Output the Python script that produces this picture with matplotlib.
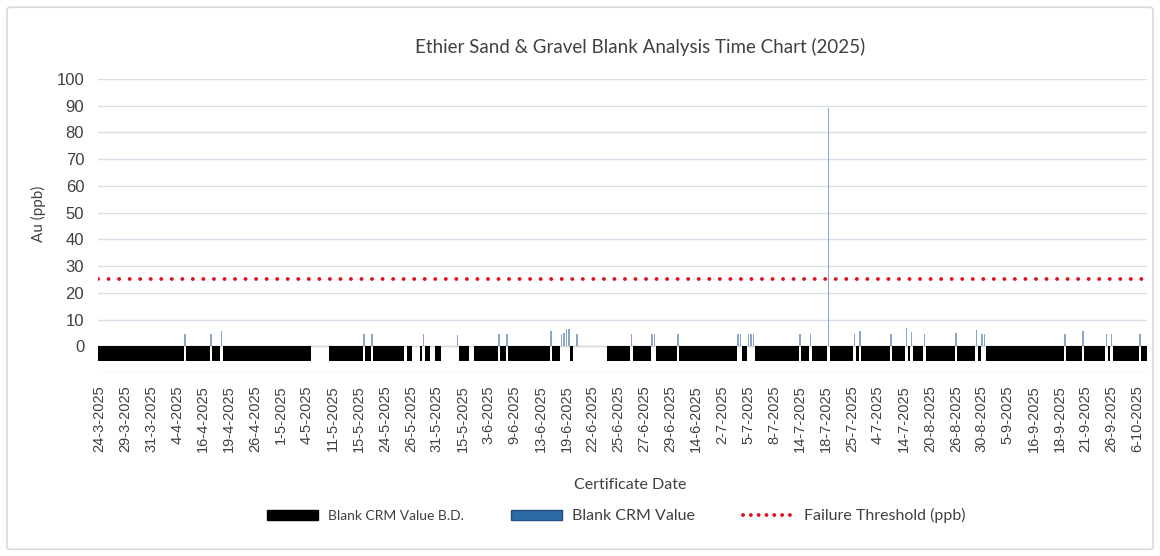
import matplotlib.pyplot as plt
from matplotlib.patches import Patch, FancyBboxPatch
from matplotlib.lines import Line2D
import numpy as np

# Tick labels shown on the category axis (one every 10 certificates)
tick_labels = ['24-3-2025', '29-3-2025', '31-3-2025', '4-4-2025', '16-4-2025', '19-4-2025',
               '26-4-2025', '1-5-2025', '4-5-2025', '11-5-2025', '15-5-2025', '24-5-2025',
               '26-5-2025', '31-5-2025', '15-5-2025', '3-6-2025', '9-6-2025', '13-6-2025',
               '19-6-2025', '22-6-2025', '25-6-2025', '27-6-2025', '29-6-2025', '14-6-2025',
               '2-7-2025', '5-7-2025', '8-7-2025', '14-7-2025', '18-7-2025', '25-7-2025',
               '4-7-2025', '14-7-2025', '20-8-2025', '26-8-2025', '30-8-2025', '5-9-2025',
               '16-9-2025', '18-9-2025', '21-9-2025', '26-9-2025', '6-10-2025']
label_every = 10
n_certificates = 404

# value plotted for results below detection
bd_value = -5.5

# certificates with no blank result (inclusive index ranges)
no_result = [(82, 88), (118, 118), (121, 123), (128, 129), (132, 137), (143, 144),
             (183, 183), (185, 195)]

# certificates with a detected blank value (index, Au ppb)
detect_idx = [33, 43, 47, 102, 105, 125, 138, 154, 157, 174, 178, 179, 180, 181, 184,
              205, 213, 214, 223, 246, 247, 250, 251, 252, 270, 274, 281, 291, 293,
              305, 311, 313, 318, 330, 338, 340, 341, 372, 379, 388, 390, 401]
detect_val = [4.6, 4.7, 5.7, 4.7, 4.7, 4.5, 4.3, 4.8, 4.8, 5.9, 4.8, 5.0, 6.3, 6.6, 4.5,
              4.7, 4.8, 4.8, 4.7, 4.7, 4.7, 4.8, 4.8, 4.8, 4.7, 4.7, 89.0, 4.7, 5.8,
              4.7, 7.0, 5.3, 4.7, 5.0, 6.0, 4.8, 4.8, 4.7, 5.8, 4.7, 4.7, 4.7]

threshold = 25

# build the two series
x = np.arange(n_certificates)
bd = np.full(n_certificates, bd_value)
for a, b in no_result:
    bd[a:b + 1] = np.nan
bd[detect_idx] = np.nan
det = np.full(n_certificates, np.nan)
det[detect_idx] = detect_val

fig = plt.figure(figsize=(11.6, 5.56), dpi=100)
fig.patches.append(FancyBboxPatch((0.006, 0.012), 0.988, 0.975, boxstyle='round,pad=0,rounding_size=0.004',
                                  transform=fig.transFigure, fc='none', ec='#d9d9d9', lw=1.2))
ax = fig.add_axes([0.0845, 0.329, 0.904, 0.529])

ax.set_xlim(-0.5, n_certificates - 0.5)
ax.set_ylim(-10, 100)
ax.set_yticks(range(-10, 101, 10))
ax.set_yticklabels([''] + [str(v) for v in range(0, 101, 10)])
ax.grid(axis='y', color='#d5dfea', lw=1)
ax.set_axisbelow(True)
ax.axhline(0, color='#d9d9d9', lw=1, zorder=1)

ax.bar(x, bd, width=1.0, color='black', zorder=2)
ax.bar(x, det, width=0.55, color='#8aa6c8', zorder=3)
ax.axhline(threshold, color='#e0101c', lw=2.8, linestyle=(0, (0.01, 2.7)),
           dash_capstyle='round', zorder=4)

ax.set_xticks(x[::label_every])
ax.set_xticklabels(tick_labels, rotation=90, fontsize=10.5, family='Liberation Sans', color='#404040')
ax.tick_params(axis='y', labelsize=12, labelcolor='#404040', length=0, pad=10)
ax.tick_params(axis='x', length=0, pad=9)
for s in ax.spines.values():
    s.set_visible(False)
for lab in ax.get_yticklabels():
    lab.set_family('Liberation Sans')

fig.text(0.552, 0.915, 'Ethier Sand & Gravel Blank Analysis Time Chart (2025)',
         ha='center', va='center', fontsize=13.5, family='Lato', color='#404040')
fig.text(0.543, 0.128, 'Certificate Date', ha='center', va='center',
         fontsize=11.5, family='Lato', color='#404040')
fig.text(0.033, 0.615, 'Au (ppb)', ha='center', va='center', rotation=90,
         fontsize=11, family='Lato', color='#404040')

handles = [Patch(fc='black', ec='black'),
           Patch(fc='#2e6aa8', ec='#1f4e80'),
           Line2D([], [], color='#e0101c', lw=2.8, linestyle=(0, (0.01, 2.0)), dash_capstyle='round')]
leg = fig.legend(handles, ['Blank CRM Value B.D.', 'Blank CRM Value', 'Failure Threshold (ppb)'],
                 loc='center', bbox_to_anchor=(0.531, 0.072), ncol=3, frameon=False,
                 handlelength=3.2, handleheight=0.6, columnspacing=3.0, handletextpad=0.6,
                 prop={'family': 'Lato', 'size': 11.5})
for t in leg.get_texts():
    t.set_color('#404040')
leg.get_texts()[0].set_fontsize(10)

fig.savefig('out.png', dpi=100)
